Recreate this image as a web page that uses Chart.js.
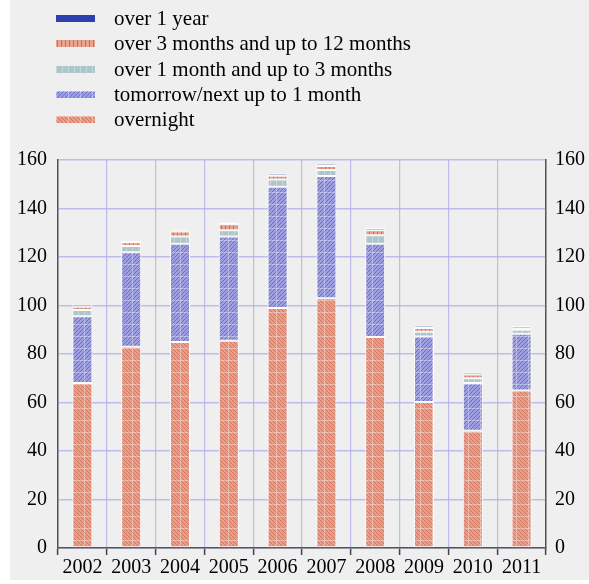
<!DOCTYPE html>
<html>
<head>
<meta charset="utf-8">
<script src="https://cdn.jsdelivr.net/npm/chart.js@4/dist/chart.umd.min.js"></script>
<style>
  html, body { margin: 0; padding: 0; background: #ffffff; }
  #wrap { position: relative; width: 589px; height: 584px; }
  #bg { position: absolute; left: 10px; top: 0; width: 579px; height: 580px; background: #efefef; }
  #c { position: absolute; left: 0; top: 0; }
  #legend { position: absolute; left: 56px; top: 6px; font-family: "Liberation Serif", "DejaVu Serif", serif; font-size: 21px; color: #000; }
  .li { height: 25.3px; display: flex; align-items: center; }
  .li canvas { width: 39px; height: 7px; margin-right: 19px; }
</style>
</head>
<body>
<div id="wrap">
  <div id="bg"></div>
  <canvas id="c" width="589" height="584"></canvas>
  <div id="legend"></div>
</div>
<script>
const years = ['2002','2003','2004','2005','2006','2007','2008','2009','2010','2011'];
const overnight     = [68,   83,   85,   85.5, 99,   103,  87,   60.2, 48.3, 65];
const tomorrowNext  = [27.6, 39,   40.5, 43,   50,   50.4, 38.5, 27,   19.7, 23.3];
const oneToThree    = [2.5,  2.5,  3,    2.5,  3,    2.5,  3.5,  2,    2,    1.7];
const threeToTwelve = [1.4,  1.6,  2,    2.5,  1.5,  1.6,  2,    1.5,  1.5,  0.6];
const overOneYear   = [0.9,  0.5,  0.5,  0.7,  0.9,  1,    1,    1,    1,    0.9];
const yTicks = [0, 20, 40, 60, 80, 100, 120, 140, 160];

function makePattern(kind) {
  const t = document.createElement('canvas');
  const s = 12;
  t.width = s; t.height = s;
  const g = t.getContext('2d');
  if (kind === 'overnight') {
    g.fillStyle = '#e89f8a'; g.fillRect(0, 0, s, s);
    g.strokeStyle = '#d27660'; g.lineWidth = 1;
    for (let k = -s; k <= s; k += 4) { g.beginPath(); g.moveTo(k, 0); g.lineTo(k + s, s); g.stroke(); }
    g.fillStyle = 'rgba(255,255,255,0.35)'; g.fillRect(0, 0, s, 1); g.fillRect(0, 0, 1, s);
  } else if (kind === 'tn') {
    g.fillStyle = '#9e9fe3'; g.fillRect(0, 0, s, s);
    g.strokeStyle = '#6a6cd0'; g.lineWidth = 1;
    for (let k = 0; k <= 2 * s; k += 4) { g.beginPath(); g.moveTo(k, 0); g.lineTo(k - s, s); g.stroke(); }
    g.fillStyle = 'rgba(255,255,255,0.35)'; g.fillRect(0, 0, s, 1); g.fillRect(0, 0, 1, s);
  } else if (kind === 'one3') {
    g.fillStyle = '#aec5cb'; g.fillRect(0, 0, s, s);
    g.fillStyle = 'rgba(255,255,255,0.3)'; g.fillRect(0, 0, 1, s); g.fillRect(6, 0, 1, s);
  } else if (kind === 'three12') {
    g.fillStyle = '#e8a48f'; g.fillRect(0, 0, s, s);
    g.fillStyle = '#d06a56';
    for (let k = 1; k < s; k += 4) g.fillRect(k, 0, 1, s);
  } else {
    g.fillStyle = '#2c3fae'; g.fillRect(0, 0, s, s);
  }
  return g.createPattern(t, 'repeat');
}

const ctx = document.getElementById('c').getContext('2d');
const series = [
  { label: 'overnight', data: overnight, kind: 'overnight' },
  { label: 'tomorrow/next up to 1 month', data: tomorrowNext, kind: 'tn' },
  { label: 'over 1 month and up to 3 months', data: oneToThree, kind: 'one3' },
  { label: 'over 3 months and up to 12 months', data: threeToTwelve, kind: 'three12' },
  { label: 'over 1 year', data: overOneYear, kind: 'y1' }
];
const datasets = series.map(s => ({
  label: s.label,
  data: s.data,
  backgroundColor: makePattern(s.kind),
  borderColor: 'rgba(255,255,255,0.85)',
  borderWidth: 1,
  borderSkipped: false,
  categoryPercentage: 1,
  barPercentage: 0.41,
  yAxisID: 'y'
}));

const gridColor = 'rgba(180,180,235,0.85)';
const font = { family: '"Liberation Serif", "DejaVu Serif", serif', size: 20 };

new Chart(ctx, {
  type: 'bar',
  data: { labels: years, datasets },
  options: {
    responsive: false,
    animation: false,
    layout: { padding: { top: 160, left: 0, right: 0, bottom: 0 } },
    plugins: { legend: { display: false }, tooltip: { enabled: false } },
    scales: {
      x: {
        stacked: true,
        grid: { offset: true, color: gridColor, lineWidth: 1.2, drawTicks: true, tickLength: 7, tickColor: '#444', tickWidth: 1.5 },
        border: { display: true, color: '#555', width: 1.5 },
        ticks: { color: '#000', font, padding: 1, maxRotation: 0, autoSkip: false },
        afterFit: s => { s.height = 36; }
      },
      y: {
        stacked: true, min: 0, max: 160,
        position: 'left',
        afterBuildTicks: s => { s.ticks = yTicks.map(v => ({ value: v })); },
        grid: { color: gridColor, lineWidth: 1.5, drawTicks: false },
        border: { display: true, color: '#555', width: 1.5 },
        ticks: { color: '#000', font, padding: 11 },
        afterFit: s => { s.width = 58; }
      },
      y2: {
        min: 0, max: 160,
        position: 'right',
        afterBuildTicks: s => { s.ticks = yTicks.map(v => ({ value: v })); },
        grid: { drawOnChartArea: false, drawTicks: false },
        border: { display: true, color: '#555', width: 1.5 },
        ticks: { color: '#000', font, padding: 9 },
        afterFit: s => { s.width = 43; }
      }
    }
  }
});

// HTML legend (top-to-bottom order is the reverse of the stacking order)
const legend = document.getElementById('legend');
series.slice().reverse().forEach(s => {
  const row = document.createElement('div');
  row.className = 'li';
  const sw = document.createElement('canvas');
  sw.width = 39; sw.height = 7;
  const sg = sw.getContext('2d');
  sg.fillStyle = makePattern(s.kind);
  sg.fillRect(0, 0, 39, 7);
  const span = document.createElement('span');
  span.textContent = s.label;
  row.appendChild(sw); row.appendChild(span);
  legend.appendChild(row);
});
</script>
</body>
</html>
